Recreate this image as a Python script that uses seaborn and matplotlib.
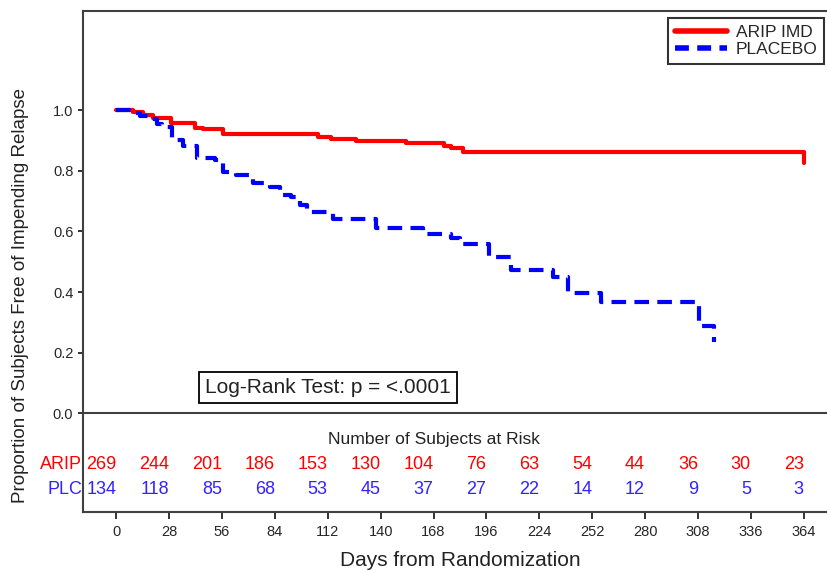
import pandas as pd
import seaborn as sns
import matplotlib
matplotlib.use('Agg')
import matplotlib.pyplot as plt
from matplotlib.lines import Line2D

# Kaplan-Meier steps (day, proportion)
arip_days = [0, 9, 14.3, 19.6, 29.1, 41.9, 46.1, 56.7, 107, 113.9, 127.2, 153.2, 173.3, 177, 183.4, 364]
arip_surv = [1.0, 0.993, 0.985, 0.975, 0.958, 0.94, 0.936, 0.921, 0.912, 0.906, 0.899, 0.892, 0.883, 0.876, 0.862, 0.826]

plc_days = [0, 10.1, 12.7, 17, 21.7, 24.4, 29.7, 35.5, 42.9, 52.5, 56.7, 63.6, 72.6, 81.6, 86.9, 92.3,
            97.5, 101.2, 115, 137.3, 162.2, 177, 181.8, 197.1, 208.8, 231, 239, 256.5, 308.4, 316.4]
plc_surv = [1.0, 0.99, 0.98, 0.97, 0.955, 0.945, 0.90, 0.882, 0.843, 0.835, 0.797, 0.786, 0.758, 0.747, 0.72, 0.714,
            0.686, 0.665, 0.64, 0.612, 0.593, 0.577, 0.558, 0.516, 0.474, 0.45, 0.397, 0.367, 0.287, 0.235]

groups = ['ARIP IMD', 'PLACEBO']
risk_labels = ['ARIP', 'PLC']
risk_days = [0, 28, 56, 84, 112, 140, 168, 196, 224, 252, 280, 308, 336, 364]
arip_risk = [269, 244, 201, 186, 153, 130, 104, 76, 63, 54, 44, 36, 30, 23]
plc_risk = [134, 118, 85, 68, 53, 45, 37, 27, 22, 14, 12, 9, 5, 3]
y_ticks = [0.0, 0.2, 0.4, 0.6, 0.8, 1.0]

red = '#FF0000'
blue = '#0000FF'

sns.set_style('white')
plt.rcParams['font.family'] = ['Liberation Sans', 'DejaVu Sans']

df = pd.concat([
    pd.DataFrame({'day': arip_days, 'surv': arip_surv, 'group': groups[0]}),
    pd.DataFrame({'day': plc_days, 'surv': plc_surv, 'group': groups[1]}),
])

fig = plt.figure(figsize=(8.27, 5.71), dpi=100)
ax = fig.add_axes([83 / 827, 58.7 / 571, 1 - 83 / 827, 501.3 / 571])

sns.lineplot(data=df, x='day', y='surv', hue='group', style='group',
             palette={groups[0]: red, groups[1]: blue},
             dashes={groups[0]: '', groups[1]: (3.5, 2)},
             drawstyle='steps-post', estimator=None, sort=False,
             lw=3, legend=False, ax=ax)

ax.set_xlim(-17.6, 376.3)
ax.set_ylim(-0.326, 1.3265)
ax.axhline(0, color='#404040', lw=1.5)

ax.set_xticks(risk_days)
ax.set_yticks(y_ticks)
ax.set_yticklabels(['%.1f' % v for v in y_ticks])
ax.tick_params(axis='x', length=5, width=1.3, pad=4.5, labelsize=10.5, color='#222222', direction='out')
ax.tick_params(axis='y', length=3.5, width=1.3, pad=3.5, labelsize=10.5, color='#222222', direction='out')
ax.xaxis.set_ticks_position('bottom')
ax.yaxis.set_ticks_position('left')
for s in ['left', 'top', 'bottom']:
    ax.spines[s].set_color('#404040')
    ax.spines[s].set_linewidth(1.5)
ax.spines['right'].set_visible(False)
ax.set_xlabel('')
ax.set_ylabel('')

# number at risk table
ax.text(168, -0.0864, 'Number of Subjects at Risk', ha='center', va='center', fontsize=12.6, color='#222222')
for row, (lab, vals, col) in enumerate(zip(risk_labels, [arip_risk, plc_risk], [red, '#3322FF'])):
    yy = [-0.170, -0.250][row]
    ax.text(-18.0, yy, lab, ha='right', va='center', fontsize=13, color=col)
    for d, v in zip(risk_days, vals):
        ax.text(d, yy, str(v), ha='right', va='center', fontsize=13, color=col)

ax.text(47.2, 0.085, 'Log-Rank Test: p = <.0001', ha='left', va='center', fontsize=15, color='#222222',
        bbox=dict(boxstyle='square,pad=0.3', fc='white', ec='black', lw=1.3))

handles = [Line2D([], [], color=red, lw=4),
           Line2D([], [], color=blue, lw=4, dashes=(2.5, 1.5))]
leg = ax.legend(handles, groups, loc='upper left', bbox_to_anchor=(668 / 827, 1 - 18 / 571),
                bbox_transform=fig.transFigure, fontsize=12.5, frameon=True, fancybox=False,
                handlelength=3.0, handletextpad=0.5, labelspacing=0.12, borderpad=0.4,
                borderaxespad=0)
leg.get_frame().set_edgecolor('black')
leg.get_frame().set_linewidth(1.5)

fig.text(21 / 827, 1 - 296 / 571, 'Proportion of Subjects Free of Impending Relapse',
         rotation=90, ha='center', va='center', fontsize=13.5, color='#222222')
fig.text(460 / 827, 1 - 560 / 571, 'Days from Randomization', ha='center', va='center',
         fontsize=15, color='#222222')

fig.savefig('out.png', dpi=100)
